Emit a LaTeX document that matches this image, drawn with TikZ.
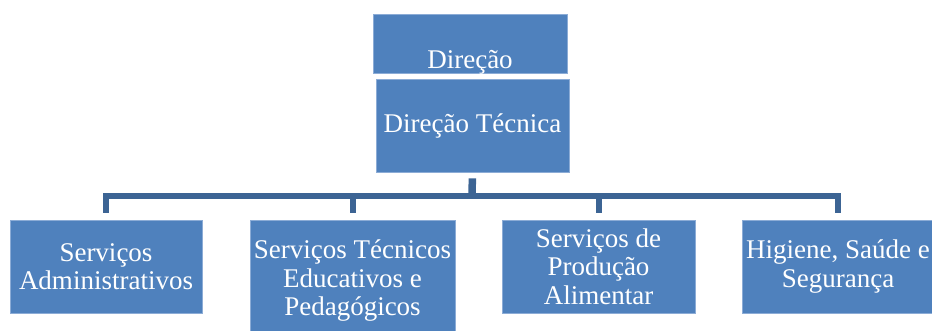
\documentclass[tikz,border=0pt]{standalone}
\usepackage{fontspec}
\setmainfont{Liberation Serif}
\definecolor{boxfill}{RGB}{79,129,189}
\definecolor{boxedge}{RGB}{140,172,214}
\definecolor{connc}{RGB}{60,100,148}
\begin{document}
\begin{tikzpicture}[x=1pt,y=-1pt,
  box/.style={draw=boxedge, line width=0.8pt, fill=boxfill, text=white, inner sep=0pt,
    align=center, font=\fontsize{27}{28.5}\selectfont},
  conn/.style={draw=connc, line width=6pt, line join=miter}]
\useasboundingbox (0,0) rectangle (932,331);
\clip (0,0) rectangle (932,331);
% top boxes
\node[box, minimum width=194, minimum height=59] (dir) at (470,43.5) {};
\node[anchor=base, text=white, inner sep=0pt, font=\fontsize{27}{28.5}\selectfont] (dirtxt) at (470,69) {Direção};
\node[box, minimum width=193, minimum height=93] (dt) at (472.5,125.5) {Direção Técnica};
% bottom boxes
\node[box, minimum width=192, minimum height=93] (b1) at (106,266.5) {Serviços\\Administrativos};
\node[box, minimum width=205, minimum height=122] (b2) at (352.5,281) {Serviços Técnicos\\Educativos e\\Pedagógicos};
\node[box, minimum width=193, minimum height=93] (b3) at (598.5,266.5) {Serviços de\\Produção\\Alimentar};
\node[box, minimum width=192, minimum height=93] (b4) at (838,266.5) {Higiene, Saúde e\\Segurança};
% connectors
\coordinate (hub) at (472,196);
\draw[conn, line width=7.5pt, shorten <=6pt] (dt.south) -- (hub);
\draw[conn, shorten <=7pt, shorten >=7pt] (b1.north) |- (hub) -| (b4.north);
\draw[conn, shorten <=7pt] (b2.north) -- (b2.north |- hub);
\draw[conn, shorten <=7pt] (b3.north) -- (b3.north |- hub);
\end{tikzpicture}
\end{document}
